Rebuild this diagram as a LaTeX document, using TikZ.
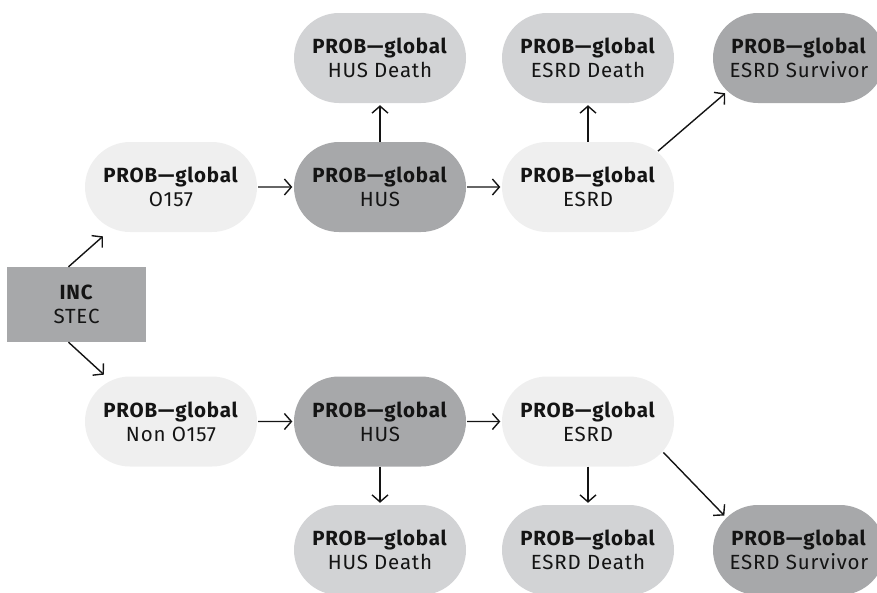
\documentclass[tikz,border=0pt]{standalone}
\usepackage{fontspec}
\setmainfont[LetterSpace=4]{Fira Sans}
\usetikzlibrary{shapes.misc,arrows.meta}

\definecolor{pale}{HTML}{EFEFEF}
\definecolor{midgray}{HTML}{D2D3D5}
\definecolor{darkgray}{HTML}{A7A8AA}
\definecolor{ink}{HTML}{141414}

\tikzset{
  labelfont/.style={font=\fontsize{20.5}{24}\selectfont},
  probnode/.style={rounded rectangle, minimum width=172pt, minimum height=90pt,
    inner sep=0pt, align=center, text=ink, labelfont},
  palenode/.style={probnode, fill=pale},
  midnode/.style={probnode, fill=midgray},
  darknode/.style={probnode, fill=darkgray},
  incnode/.style={rectangle, fill=darkgray, minimum width=139pt, minimum height=75pt,
    inner sep=0pt, align=center, text=ink, labelfont},
  arr/.style={draw=ink, line width=1.4pt, -{Straight Barb[length=7pt,width=16pt,line width=1.4pt]}}
}
\newcommand{\probtext}[1]{\textbf{PROB—global}\\#1}

\begin{document}
\begin{tikzpicture}[x=1pt,y=-1pt]
\useasboundingbox (0,0) rectangle (877,592);

% incidence box
\node[incnode] (inc) at (76.5,304.5) {\textbf{INC}\\STEC};

% upper branch (O157)
\node[palenode] (o157)  at (171,187) {\probtext{O157}};
\node[darknode] (hus1)  at (380,187) {\probtext{HUS}};
\node[palenode] (esrd1) at (588,187) {\probtext{ESRD}};
\node[midnode]  (husd1) at (380,58)  {\probtext{HUS Death}};
\node[midnode]  (esrdd1) at (588,58) {\probtext{ESRD Death}};
\node[darknode] (surv1) at (799,58)  {\probtext{ESRD Survivor}};

% lower branch (Non O157)
\node[palenode] (non)   at (171,421.5) {\probtext{Non O157}};
\node[darknode] (hus2)  at (380,421.5) {\probtext{HUS}};
\node[palenode] (esrd2) at (588,421.5) {\probtext{ESRD}};
\node[midnode]  (husd2) at (380,550)   {\probtext{HUS Death}};
\node[midnode]  (esrdd2) at (588,550)  {\probtext{ESRD Death}};
\node[darknode] (surv2) at (799,550)   {\probtext{ESRD Survivor}};

% connectors
\draw[arr, shorten >=12pt] ([xshift=-8pt]inc.north) -- (o157.215);
\draw[arr, shorten >=9pt]  ([xshift=-8pt]inc.south) -- (non.146.7);

\draw[arr, shorten <=1pt, shorten >=1.5pt] (o157) -- (hus1);
\draw[arr, shorten <=1pt, shorten >=1.5pt] (hus1) -- (esrd1);
\draw[arr, shorten >=2pt] (hus1.north) -- (husd1.south);
\draw[arr, shorten >=2pt] (esrd1.north) -- (esrdd1.south);
\draw[arr, shorten <=1pt, shorten >=3pt] (esrd1.27.2) -- (surv1.205.7);

\draw[arr, shorten <=1pt, shorten >=1.5pt] (non) -- (hus2);
\draw[arr, shorten <=1pt, shorten >=1.5pt] (hus2) -- (esrd2);
\draw[arr, shorten >=2pt] (hus2.south) -- (husd2.north);
\draw[arr, shorten >=2pt] (esrd2.south) -- (esrdd2.north);
\draw[arr, shorten <=1pt, shorten >=3pt] (esrd2.-22.5) -- (surv2.156.2);
\end{tikzpicture}
\end{document}
